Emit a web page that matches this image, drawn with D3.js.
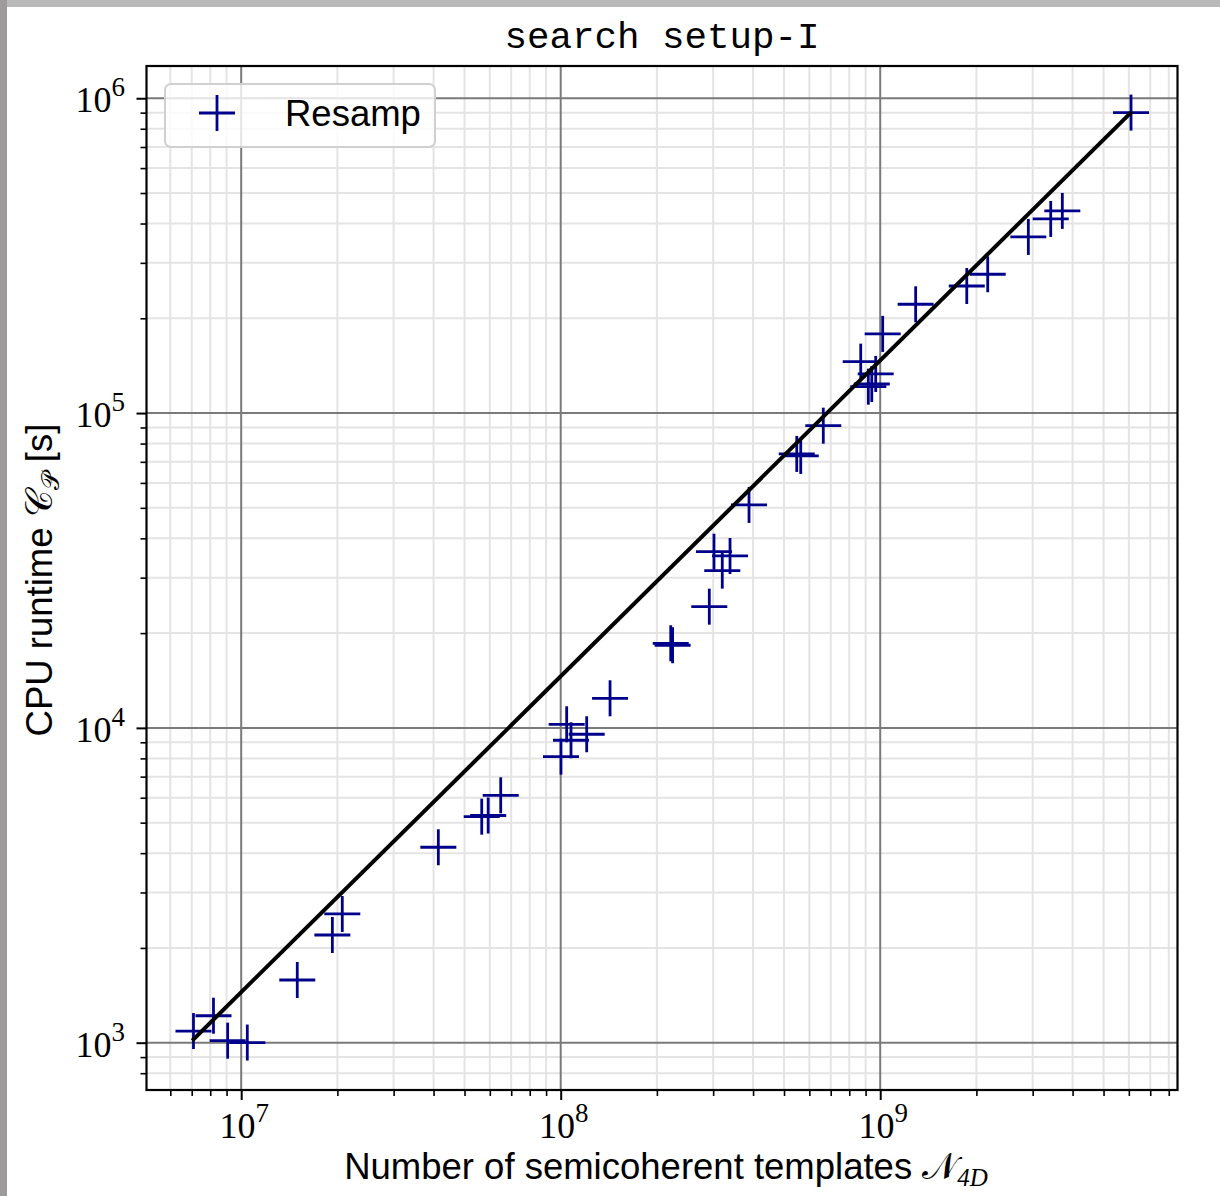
<!DOCTYPE html>
<html>
<head>
<meta charset="utf-8">
<script src="https://cdn.jsdelivr.net/npm/d3@7"></script>
<style>
  body { margin: 0; background: #fff; }
  svg { display: block; }
</style>
</head>
<body>
<svg id="plot" width="1220" height="1196"></svg>
<script>
// number of semicoherent templates vs CPU runtime
var nTemplates = [7.09e6, 8.19e6, 9.07e6, 1.045e7, 1.498e7, 1.929e7, 2.072e7, 4.14e7, 5.66e7, 5.93e7,
    6.49e7, 1.002e8, 1.044e8, 1.077e8, 1.206e8, 1.427e8, 2.21e8, 2.24e8, 2.918e8, 3.018e8,
    3.204e8, 3.388e8, 3.885e8, 5.48e8, 5.64e8, 6.635e8, 8.69e8, 9.18e8, 9.41e8, 9.68e8,
    1.018e9, 1.291e9, 1.866e9, 2.17e9, 2.908e9, 3.417e9, 3.715e9, 6.095e9];
var cpuRuntime = [1089, 1218, 1015, 1001, 1582, 2198, 2564, 4176, 5223, 5268,
    6107, 8101, 10266, 9134, 9544, 12417, 18566, 18300, 24266, 36282,
    31580, 35160, 51070, 74160, 73070, 91200, 145670, 121300, 123700, 133100,
    178400, 221600, 253300, 276000, 362600, 413600, 438600, 900300];

// fitted line end points
var fitX = [7.1e6, 6.06e9];
var fitY = [1026, 8.96e5];

var xMajor = [1e7, 1e8, 1e9];
var yMajor = [1e3, 1e4, 1e5, 1e6];
var xTickExp = ["7", "8", "9"];
var yTickExp = ["3", "4", "5", "6"];

var titleText = "search setup-I";
var legendLabel = "Resamp";

function makePlot(){
    var svg = d3.select("#plot");
    var width = 1220, height = 1196;

    // the grey border of the original screenshot
    svg.append("rect").attr("x", 0).attr("y", 0).attr("width", width).attr("height", 7).attr("fill", "#b9b9b9");
    svg.append("rect").attr("x", 0).attr("y", 0).attr("width", 7).attr("height", height).attr("fill", "#9c9a9a");

    var left = 146.5, right = 1177.5, plotTop = 66, bottom = 1090;

    var xScale = d3.scaleLog()
        .domain([5.054e6, 8.52e9])
        .range([left, right]);

    var yScale = d3.scaleLog()
        .domain([707.5, 1.266e6])
        .range([bottom, plotTop]);

    function minors(lo, hi) {
        var out = [];
        for (var e = Math.floor(Math.log10(lo)); e <= Math.ceil(Math.log10(hi)); e++) {
            for (var k = 2; k <= 9; k++) {
                var v = k * Math.pow(10, e);
                if (v > lo && v < hi) out.push(v);
            }
        }
        return out;
    }
    var xMinor = minors(xScale.domain()[0], xScale.domain()[1]);
    var yMinor = minors(yScale.domain()[0], yScale.domain()[1]);

    var container = svg.append("g");

    // grid
    var grid = container.append("g");
    grid.selectAll(".xminor").data(xMinor).enter().append("line")
        .attr("x1", function(d){ return xScale(d); }).attr("x2", function(d){ return xScale(d); })
        .attr("y1", plotTop).attr("y2", bottom)
        .attr("stroke", "#e4e4e4").attr("stroke-width", 2);
    grid.selectAll(".yminor").data(yMinor).enter().append("line")
        .attr("y1", function(d){ return yScale(d); }).attr("y2", function(d){ return yScale(d); })
        .attr("x1", left).attr("x2", right)
        .attr("stroke", "#e4e4e4").attr("stroke-width", 2);
    grid.selectAll(".xmajor").data(xMajor).enter().append("line")
        .attr("x1", function(d){ return xScale(d); }).attr("x2", function(d){ return xScale(d); })
        .attr("y1", plotTop).attr("y2", bottom)
        .attr("stroke", "#7a7a7a").attr("stroke-width", 2);
    grid.selectAll(".ymajor").data(yMajor).enter().append("line")
        .attr("y1", function(d){ return yScale(d); }).attr("y2", function(d){ return yScale(d); })
        .attr("x1", left).attr("x2", right)
        .attr("stroke", "#7a7a7a").attr("stroke-width", 2);

    // markers
    var pts = nTemplates.map(function(d, i){ return {x: d, y: cpuRuntime[i]}; });
    var arm = 18;
    var marks = container.append("g")
        .attr("stroke", "#00008b")
        .attr("stroke-width", 2.8);
    marks.selectAll(".h").data(pts).enter().append("line")
        .attr("x1", function(d){ return xScale(d.x) - arm; })
        .attr("x2", function(d){ return xScale(d.x) + arm; })
        .attr("y1", function(d){ return yScale(d.y); })
        .attr("y2", function(d){ return yScale(d.y); });
    marks.selectAll(".v").data(pts).enter().append("line")
        .attr("x1", function(d){ return xScale(d.x); })
        .attr("x2", function(d){ return xScale(d.x); })
        .attr("y1", function(d){ return yScale(d.y) - arm; })
        .attr("y2", function(d){ return yScale(d.y) + arm; });

    // fit line
    var line = d3.line()
        .x(function(d){ return xScale(d[0]); })
        .y(function(d){ return yScale(d[1]); });
    container.append("path")
        .datum(fitX.map(function(d, i){ return [d, fitY[i]]; }))
        .attr("fill", "none")
        .attr("stroke", "#000")
        .attr("stroke-width", 4)
        .attr("stroke-linecap", "square")
        .attr("d", line);

    // axes (ticks only, labels drawn below)
    container.append("g")
        .attr("transform", "translate(0," + bottom + ")")
        .call(d3.axisBottom(xScale).tickValues(xMajor).tickSize(10).tickFormat(""))
        .call(function(g){ g.select(".domain").remove(); g.selectAll("line").attr("stroke-width", 2); });
    container.append("g")
        .attr("transform", "translate(0," + bottom + ")")
        .call(d3.axisBottom(xScale).tickValues(xMinor).tickSize(6).tickFormat(""))
        .call(function(g){ g.select(".domain").remove(); g.selectAll("line").attr("stroke-width", 1.6); });
    container.append("g")
        .attr("transform", "translate(" + left + ",0)")
        .call(d3.axisLeft(yScale).tickValues(yMajor).tickSize(10).tickFormat(""))
        .call(function(g){ g.select(".domain").remove(); g.selectAll("line").attr("stroke-width", 2); });
    container.append("g")
        .attr("transform", "translate(" + left + ",0)")
        .call(d3.axisLeft(yScale).tickValues(yMinor).tickSize(6).tickFormat(""))
        .call(function(g){ g.select(".domain").remove(); g.selectAll("line").attr("stroke-width", 1.6); });

    // frame
    container.append("rect")
        .attr("x", left).attr("y", plotTop)
        .attr("width", right - left).attr("height", bottom - plotTop)
        .attr("fill", "none").attr("stroke", "#000").attr("stroke-width", 2.2);

    // tick labels 10^n
    var serif = "'Liberation Serif', 'DejaVu Serif', serif";
    container.selectAll(".xlab").data(xMajor).enter().append("text")
        .attr("x", function(d){ return xScale(d) + 3; })
        .attr("y", 1138)
        .attr("text-anchor", "middle")
        .attr("font-family", serif)
        .attr("font-size", 36)
        .each(function(d, i){
            var t = d3.select(this);
            t.append("tspan").text("10");
            t.append("tspan").attr("font-size", 27).attr("dy", -16).text(xTickExp[i]);
        });
    container.selectAll(".ylab").data(yMajor).enter().append("text")
        .attr("x", 125)
        .attr("y", function(d){ return yScale(d) + 14; })
        .attr("text-anchor", "end")
        .attr("font-family", serif)
        .attr("font-size", 36)
        .each(function(d, i){
            var t = d3.select(this);
            t.append("tspan").text("10");
            t.append("tspan").attr("font-size", 27).attr("dy", -16).text(yTickExp[i]);
        });

    // title
    container.append("text")
        .attr("x", (left + right) / 2)
        .attr("y", 48)
        .attr("text-anchor", "middle")
        .attr("font-family", "'Liberation Mono', 'DejaVu Sans Mono', monospace")
        .attr("font-size", 37.5)
        .attr("fill", "#000")
        .text(titleText);

    // axis labels
    var sans = "'Liberation Sans', Arial, sans-serif";
    var xl = container.append("text")
        .attr("x", (left + right) / 2 + 4)
        .attr("y", 1179)
        .attr("text-anchor", "middle")
        .attr("font-family", sans)
        .attr("font-size", 36.5)
        .attr("fill", "#000");
    xl.append("tspan").text("Number of semicoherent templates ");
    xl.append("tspan").attr("font-family", serif).text("𝒩");
    xl.append("tspan").attr("font-family", serif).attr("font-style", "italic").attr("font-size", 25).attr("dy", 7).text("4D");

    var yl = container.append("text")
        .attr("transform", "translate(52," + ((plotTop + bottom) / 2 + 2) + ") rotate(-90)")
        .attr("text-anchor", "middle")
        .attr("font-family", sans)
        .attr("font-size", 36.5)
        .attr("fill", "#000");
    yl.append("tspan").text("CPU runtime ");
    yl.append("tspan").attr("font-family", serif).text("𝒞");
    yl.append("tspan").attr("font-family", serif).attr("font-size", 25).attr("dy", 7).text("𝒫");
    yl.append("tspan").attr("dy", -7).text(" [s]");

    // legend
    var legend = container.append("g");
    legend.append("rect")
        .attr("x", 165).attr("y", 84)
        .attr("width", 270).attr("height", 63)
        .attr("rx", 6)
        .attr("fill", "#fff").attr("fill-opacity", 0.8)
        .attr("stroke", "#d0d0d0").attr("stroke-width", 2);
    legend.append("line")
        .attr("x1", 217 - arm).attr("x2", 217 + arm)
        .attr("y1", 113).attr("y2", 113)
        .attr("stroke", "#00008b").attr("stroke-width", 2.8);
    legend.append("line")
        .attr("x1", 217).attr("x2", 217)
        .attr("y1", 113 - arm).attr("y2", 113 + arm)
        .attr("stroke", "#00008b").attr("stroke-width", 2.8);
    legend.append("text")
        .attr("x", 285).attr("y", 126)
        .attr("font-family", sans)
        .attr("font-size", 36.5)
        .attr("fill", "#000")
        .text(legendLabel);
}

makePlot();
</script>
</body>
</html>
